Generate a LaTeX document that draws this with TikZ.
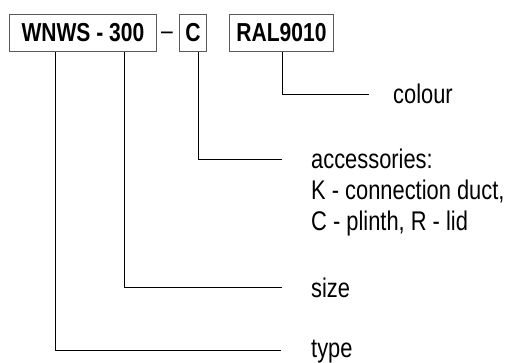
\documentclass[tikz,border=0pt]{standalone}
\usepackage{fontspec}
\setmainfont{Liberation Sans}[FakeStretch=0.81]
\begin{document}
\begin{tikzpicture}[x=1pt,y=-1pt,
  box/.style={draw=black!65, line width=0.9pt, minimum height=37pt, inner sep=0pt,
    font=\bfseries\fontsize{26}{31}\selectfont, anchor=north west},
  lab/.style={anchor=base west, inner sep=0pt, align=left, font=\fontsize{27}{31}\selectfont},
  conn/.style={line width=0.9pt, black}]
\useasboundingbox (0,0) rectangle (505,363);
\node[box, minimum width=147pt] (wn) at (9,14) {WNWS - 300};
\node[anchor=base, inner sep=0pt, font=\fontsize{26}{31}\selectfont] (dash) at (167,40) {–};
\node[box, minimum width=27pt] (cb) at (179,14) {C};
\node[box, minimum width=104pt] (ral) at (229,14) {RAL9010};
\node[lab] (colour) at (393,104) {colour};
\node[lab] (acc) at (311,230) {accessories:\\K - connection duct,\\C - plinth, R - lid};
\node[lab] (size) at (311,297) {size};
\node[lab] (type) at (311,357) {type};
\coordinate (ecol) at (369,94);
\coordinate (eacc) at (282,159);
\coordinate (esize) at (282,287);
\coordinate (etype) at (281,350);
\draw[conn] (ral.south -| 282,0) |- (ecol);
\draw[conn] (cb.south -| 198,0) |- (eacc);
\draw[conn] (wn.south -| 124,0) |- (esize);
\draw[conn] (wn.south -| 55,0) |- (etype);
\end{tikzpicture}
\end{document}
